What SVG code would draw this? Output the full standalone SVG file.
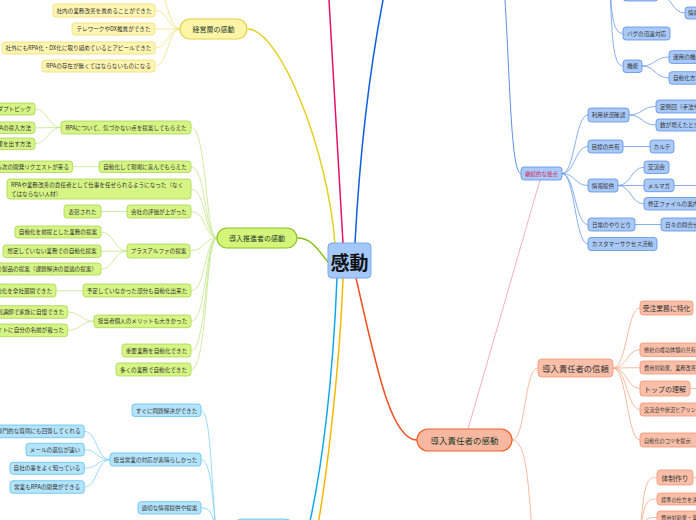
<svg xmlns="http://www.w3.org/2000/svg" width="696" height="520" viewBox="0 0 696 520">
<style>
text{font-family:"Noto Sans CJK JP","Noto Sans CJK SC",sans-serif;font-size:5.6px;fill:#333;dominant-baseline:central;text-anchor:middle}
.e{text-anchor:end}.s{text-anchor:start}
.y rect{fill:#fff6b2;stroke:#f0dc70;stroke-width:.8}
.g rect{fill:#d6f584;stroke:#a8d650;stroke-width:.8}
.lb rect{fill:#b3e4fb;stroke:#5ec0f0;stroke-width:.8}
.b rect{fill:#a9c9f9;stroke:#5b8fe6;stroke-width:.8}
.o rect{fill:#f9bfa9;stroke:#f19475;stroke-width:.8}
.main text{fill:#1d3b2a;font-size:7px}
#connectors path{fill:none}
.cy{stroke:#f3e27a;stroke-width:.8}
.cg{stroke:#c4e68a;stroke-width:.8}
.cl{stroke:#80d0f8;stroke-width:.8}
.cb{stroke:#6a9ae8;stroke-width:.8}
.co{stroke:#f8a888;stroke-width:.8}
</style>
<g id="connectors">
<path d="M247.5,29 C280,29 328,150 335,244" stroke="#e6d020" stroke-width="1.5"/>
<path d="M343,243 Q336,120 329,0" stroke="#e8106a" stroke-width="1.5"/>
<path d="M355,243 Q362,110 383,0" stroke="#1060e0" stroke-width="1.5"/>
<path d="M297,238 C312,238 318,250 328,262" stroke="#80c010" stroke-width="1.5"/>
<path d="M337,278 C333,380 322,470 308,530" stroke="#10a8e8" stroke-width="1.5"/>
<path d="M343,278 C340,360 328,470 317,530" stroke="#f8b800" stroke-width="1.5"/>
<path d="M356,278 C375,360 390,440 417,440" stroke="#f05020" stroke-width="1.5"/>
<path d="M468,429 L540,180" stroke="#f4a6b8" stroke-width=".9"/>
<path d="M505,0 C510,80 511,173.5 521,173.5" stroke="#5a90e8" stroke-width="1"/>
<!-- yellow -->
<path class="cy" d="M180,29 C168,29 168,-10 155,-10"/>
<path class="cy" d="M180,29 C168,29 168,10.5 155,10.5"/>
<path class="cy" d="M180,29 C168,29 168,29 155,29"/>
<path class="cy" d="M180,29 C168,29 168,48 155,48"/>
<path class="cy" d="M180,29 C168,29 168,66 155,66"/>
<!-- green -->
<path class="cg" d="M191,127.5 C207,127.5 205,238 217,238"/>
<path class="cg" d="M191,166.7 C206,166.7 205,238 217,238"/>
<path class="cg" d="M191,189 C206,189 205,238 217,238"/>
<path class="cg" d="M191,211.5 C206,211.5 205,238 217,238"/>
<path class="cg" d="M190,251 C204,251 205,238 217,238"/>
<path class="cg" d="M191,290.8 C206,290.8 205,238 217,238"/>
<path class="cg" d="M191,321.3 C207,321.3 205,238 217,238"/>
<path class="cg" d="M191,350.8 C207,350.8 205,238 217,238"/>
<path class="cg" d="M191,369.7 C208,369.7 205,238 217,238"/>
<path class="cg" d="M35,109 C48,109 48,127.5 61,127.5"/>
<path class="cg" d="M35,127.8 L61,127.5" stroke-width="1.6"/>
<path class="cg" d="M35,143.5 C48,143.5 48,127.5 61,127.5"/>
<path class="cg" d="M72.7,166.7 L99,166.7"/>
<path class="cg" d="M101,211.5 L127,211.5" stroke-width="1.4"/>
<path class="cg" d="M101,232 C114,232 114,251 127,251"/>
<path class="cg" d="M101,251.3 L127,251"/>
<path class="cg" d="M101,269 C114,269 114,251 127,251"/>
<path class="cg" d="M56,290.8 L83,290.8" stroke-width="1.4"/>
<path class="cg" d="M67.7,312 C81,312 81,321.3 94,321.3"/>
<path class="cg" d="M67.7,330.3 C81,330.3 81,321.3 94,321.3"/>
<!-- light blue -->
<path class="cl" d="M201,410.5 C211,410.5 211,480 216,530"/>
<path class="cl" d="M201,459.7 C211,459.7 212,495 216,530"/>
<path class="cl" d="M201,507.8 C211,507.8 213,515 216,530"/>
<path class="cl" d="M84.3,431.3 C97,431.3 97,459.7 110,459.7"/>
<path class="cl" d="M84.3,449.7 C97,449.7 97,459.7 110,459.7"/>
<path class="cl" d="M84.3,468.3 C97,468.3 97,459.7 110,459.7"/>
<path class="cl" d="M84.3,487 C97,487 97,459.7 110,459.7"/>
<!-- blue -->
<path class="cb" d="M562,173.5 C575,173.5 575,115 588,115"/>
<path class="cb" d="M562,173.5 C575,173.5 575,146.5 588,146.5"/>
<path class="cb" d="M562,173.5 C575,173.5 575,185.5 588,185.5"/>
<path class="cb" d="M562,173.5 C575,173.5 575,224.5 588,224.5"/>
<path class="cb" d="M562,173.5 C575,173.5 575,244 588,244"/>
<path class="cb" d="M629,115 C642,115 642,106.5 656,106.5"/>
<path class="cb" d="M629,115 C642,115 642,125 656,125"/>
<path class="cb" d="M623,146.5 L650,146.5"/>
<path class="cb" d="M618,185.5 C631,185.5 631,167.3 644,167.3"/>
<path class="cb" d="M618,185.5 L644,185.5"/>
<path class="cb" d="M618,185.5 C631,185.5 631,203.8 644,203.8"/>
<path class="cb" d="M674,185.5 L696,185.5"/>
<path class="cb" d="M635,224.5 L661,224.5"/>
<path class="cb" d="M610,-10 C612,10 612,33.5 623,33.5"/>
<path class="cb" d="M610,-10 C612,30 612,66 623,66"/>
<path class="cb" d="M606,-20 C612,-20 612,-5 623,-5"/>
<path class="cb" d="M658,-5 C672,-5 672,13 685,13"/>
<path class="cb" d="M642,66 C655,66 655,57 669,57"/>
<path class="cb" d="M642,66 C655,66 655,78 669,78"/>
<!-- orange -->
<path class="co" d="M512,440 C526,440 524,368 538,368"/>
<path class="co" d="M512,440 C526,440 528,480 532,530"/>
<path class="co" d="M613,368 C627,368 627,308 640,308"/>
<path class="co" d="M613,368 C627,368 627,349.7 640,349.7"/>
<path class="co" d="M613,368 L640,367.7"/>
<path class="co" d="M613,368 C627,368 627,388.5 640,388.5"/>
<path class="co" d="M613,368 C627,368 627,409.5 640,409.5"/>
<path class="co" d="M613,368 C627,368 627,440 640,440"/>
<path class="co" d="M690,388.5 L696,388.5"/>
<path class="co" d="M640,535 C644,477.5 648,477.5 657,477.5"/>
<path class="co" d="M640,535 C644,499 648,499 657,499"/>
<path class="co" d="M640,535 C644,517.5 648,517.5 657,517.5"/>
<path class="co" d="M693,477.5 L696,477.5"/>
</g>

<g id="center"><rect x="328" y="243" width="43" height="35" rx="4" fill="#a5c8fa" stroke="#78a8f0" stroke-width="1"/><text x="349.5" y="261" style="font-size:19px;font-weight:bold;fill:#111">感動</text></g>

<g id="keiei" class="y main"><rect x="180" y="19" width="67" height="20" rx="10" style="fill:#fff5a8;stroke:#e8d040;stroke-width:1.2"/><text x="213.5" y="29">経営層の感動</text></g>
<g id="y1" class="y"><rect x="53" y="4" width="102" height="13" rx="3"/><text x="104" y="10.5">社内の業務改善を進めることができた</text></g>
<g id="y2" class="y"><rect x="72" y="23" width="83" height="12" rx="3"/><text x="113.5" y="29">テレワークやDX推進ができた</text></g>
<g id="y3" class="y"><rect x="2" y="42" width="153" height="12" rx="3"/><text x="78.5" y="48">社外にもRPA化・DX化に取り組めているとアピールできた</text></g>
<g id="y4" class="y"><rect x="42" y="60" width="113" height="12" rx="3"/><text x="98.5" y="66">RPAの存在が無くてはならないものになる</text></g>

<g id="suishin" class="g main"><rect x="217" y="228" width="80" height="20" rx="10" style="fill:#d4f57a;stroke:#88c420;stroke-width:1.2"/><text x="257" y="238">導入推進者の感動</text></g>
<g id="g1" class="g"><rect x="61" y="121" width="130" height="13" rx="3"/><text x="126" y="127.5">RPAについて、気づかない点を提案してもらえた</text></g>
<g id="g1a" class="g"><rect x="-40" y="103" width="75" height="12" rx="3"/><text class="e" x="31" y="109">アダプトピック</text></g>
<g id="g1b" class="g"><rect x="-40" y="122" width="75" height="11.5" rx="3"/><text class="e" x="31" y="127.8">RPAの導入方法</text></g>
<g id="g1c" class="g"><rect x="-40" y="138" width="75" height="11.5" rx="3"/><text class="e" x="31" y="143.7">成果を出す方法</text></g>
<g id="g2" class="g"><rect x="99" y="161" width="92" height="11.5" rx="3"/><text x="145" y="166.7">自動化して現場に喜んでもらえた</text></g>
<g id="g2a" class="g"><rect x="-40" y="161" width="112.7" height="11.5" rx="3"/><text class="e" x="69" y="166.7">現場から次の開発リクエストが来る</text></g>
<g id="g3" class="g"><rect x="7" y="179" width="184" height="20" rx="3"/><text class="s" x="11" y="185">RPAや業務改善の責任者として仕事を任せられるようになった（なく</text><text class="s" x="11" y="193.5">てはならない人材）</text></g>
<g id="g4" class="g"><rect x="127" y="205" width="64" height="13" rx="3"/><text x="159" y="211.5">会社の評価が上がった</text></g>
<g id="g4a" class="g"><rect x="64" y="205" width="37" height="13" rx="3"/><text x="82.5" y="211.5">表彰された</text></g>
<g id="g5" class="g"><rect x="127" y="244" width="63" height="14" rx="3"/><text x="158.5" y="251">プラスアルファの提案</text></g>
<g id="g5a" class="g"><rect x="15" y="226" width="86" height="12" rx="3"/><text x="58" y="232">自動化を前提とした業務の提案</text></g>
<g id="g5b" class="g"><rect x="3" y="245" width="98" height="12.5" rx="3"/><text x="52" y="251.3">想定していない業務での自動化提案</text></g>
<g id="g5c" class="g"><rect x="-30" y="263" width="131" height="12" rx="3"/><text class="e" x="97" y="269">他の製品の提案（課題解決の最適の提案）</text></g>
<g id="g6" class="g"><rect x="83" y="284" width="108" height="13" rx="3"/><text x="137" y="290.8">予定していなかった部分も自動化出来た</text></g>
<g id="g6a" class="g"><rect x="-30" y="284" width="86" height="13" rx="3"/><text class="e" x="52" y="290.8">自動化を全社展開できた</text></g>
<g id="g7" class="g"><rect x="94" y="315" width="97" height="12.7" rx="3"/><text x="142.5" y="321.3">担当者個人のメリットも大きかった</text></g>
<g id="g7a" class="g"><rect x="-30" y="305.7" width="97.7" height="12.6" rx="3"/><text class="e" x="64" y="312">特別講師で家族に自慢できた</text></g>
<g id="g7b" class="g"><rect x="-30" y="324" width="97.7" height="12.7" rx="3"/><text class="e" x="64" y="330.3">Webサイトに自分の名前が載った</text></g>
<g id="g8" class="g"><rect x="122" y="344" width="69" height="13" rx="3"/><text x="156.5" y="350.8">重要業務を自動化できた</text></g>
<g id="g9" class="g"><rect x="116" y="363" width="75" height="13" rx="3"/><text x="153.5" y="369.7">多くの業務で自動化できた</text></g>

<g id="l0" class="lb"><rect x="232" y="519" width="63" height="22" rx="10"/></g>
<g id="l1" class="lb"><rect x="132" y="404" width="69" height="12.5" rx="3"/><text x="166.5" y="410.5">すぐに問題解決ができた</text></g>
<g id="l2" class="lb"><rect x="110" y="453" width="91" height="13" rx="3"/><text x="155.5" y="459.7">担当営業の対応が素晴らしかった</text></g>
<g id="l2a" class="lb"><rect x="-20" y="425" width="104.3" height="12.7" rx="3"/><text class="e" x="80.5" y="431.3">専門的な質問にも回答してくれる</text></g>
<g id="l2b" class="lb"><rect x="26" y="443.3" width="58.3" height="12.7" rx="3"/><text x="55" y="449.7">メールの返信が速い</text></g>
<g id="l2c" class="lb"><rect x="10" y="462.3" width="74.3" height="12" rx="3"/><text x="47" y="468.3">自社の事をよく知っている</text></g>
<g id="l2d" class="lb"><rect x="10" y="480.7" width="74.3" height="12.6" rx="3"/><text x="47" y="487">営業もRPAの開発ができる</text></g>
<g id="l3" class="lb"><rect x="138" y="501.7" width="63" height="12.3" rx="3"/><text x="169.5" y="507.8">適切な情報提供や提案</text></g>

<g id="b0" class="b"><rect x="521" y="167" width="41" height="13" rx="3"/><text x="541.5" y="173.5" style="fill:#d0285a;font-size:5.5px">継続的な接点</text></g>
<g id="b1" class="b"><rect x="588" y="108" width="41" height="14" rx="3"/><text x="608.5" y="115">利用状況確認</text></g>
<g id="b1a" class="b"><rect x="656" y="100" width="60" height="13" rx="3"/><text class="s" x="660" y="106.5">定例回（手法や</text></g>
<g id="b1b" class="b"><rect x="656" y="119" width="60" height="12" rx="3"/><text class="s" x="660" y="125">数が増えたとき</text></g>
<g id="b2" class="b"><rect x="588" y="140" width="35" height="13" rx="3"/><text x="605.5" y="146.5">目標の共有</text></g>
<g id="b2a" class="b"><rect x="650" y="140" width="24" height="13" rx="3"/><text x="662" y="146.5">カルテ</text></g>
<g id="b3" class="b"><rect x="588" y="179" width="30" height="13" rx="3"/><text x="603" y="185.5">情報提供</text></g>
<g id="b3a" class="b"><rect x="644" y="161" width="25" height="12.5" rx="3"/><text x="656.5" y="167.3">交流会</text></g>
<g id="b3b" class="b"><rect x="644" y="179" width="30" height="12.7" rx="3"/><text x="659" y="185.5">メルマガ</text></g>
<g id="b3c" class="b"><rect x="644" y="197.5" width="60" height="12.5" rx="3"/><text class="s" x="648" y="203.8">修正ファイルの案内</text></g>
<g id="b4" class="b"><rect x="588" y="218" width="47" height="13" rx="3"/><text x="611.5" y="224.5">日常のやりとり</text></g>
<g id="b4a" class="b"><rect x="661" y="218" width="50" height="13" rx="3"/><text class="s" x="665" y="224.5">日々の問合せ対応</text></g>
<g id="b5" class="b"><rect x="588" y="237.5" width="69" height="13" rx="3"/><text x="622.5" y="244">カスタマーサクセス活動</text></g>
<g id="b6" class="b"><rect x="623" y="-12" width="35" height="13" rx="3"/></g>
<g id="b6a" class="b"><rect x="685" y="7" width="30" height="12" rx="3"/><text class="s" x="688" y="13">情報</text></g>
<g id="b7" class="b"><rect x="623" y="27" width="47" height="13" rx="3"/><text x="646.5" y="33.5">バグの迅速対応</text></g>
<g id="b8" class="b"><rect x="623" y="60" width="19" height="12.5" rx="3"/><text x="632.5" y="66">機能</text></g>
<g id="b8a" class="b"><rect x="669" y="50.7" width="40" height="12.7" rx="3"/><text class="s" x="673" y="57">運用の機能</text></g>
<g id="b8b" class="b"><rect x="669" y="71.7" width="40" height="12.5" rx="3"/><text class="s" x="673" y="78">自動化方法</text></g>

<g id="sekinin" class="o main"><rect x="417" y="429" width="95" height="22" rx="11" style="fill:#f8b8a0;stroke:#f06030;stroke-width:1.2"/><text x="464.5" y="440" style="font-size:8.5px">導入責任者の感動</text></g>
<g id="o1" class="o"><rect x="538" y="359" width="75" height="18" rx="4"/><text x="575.5" y="368" style="font-size:8.3px">導入責任者の信頼</text></g>
<g id="o1a" class="o"><rect x="640" y="301" width="53" height="14" rx="3"/><text x="666.5" y="308" style="font-size:6.8px">受注業務に特化</text></g>
<g id="o1b" class="o"><rect x="640" y="343" width="70" height="13.5" rx="3"/><text class="s" x="644" y="349.7" style="font-size:5.2px">他社の成功体験の共有</text></g>
<g id="o1c" class="o"><rect x="640" y="361" width="70" height="13" rx="3"/><text class="s" x="644" y="367.7" style="font-size:5.2px">費用対効果、業務改善</text></g>
<g id="o1d" class="o"><rect x="640" y="381" width="50" height="15" rx="3"/><text x="665" y="388.5" style="font-size:7px">トップの理解</text></g>
<g id="o1e" class="o"><rect x="640" y="403" width="70" height="13" rx="3"/><text class="s" x="644" y="409.5" style="font-size:5.2px">交流会や状況ヒアリング</text></g>
<g id="o1f" class="o"><rect x="640" y="433" width="70" height="14" rx="3"/><text class="s" x="644" y="440" style="font-size:5.2px">自動化のコツを提示</text></g>
<g id="o2a" class="o"><rect x="657" y="470" width="36" height="15" rx="3"/><text x="675" y="477.5" style="font-size:6.8px">体制作り</text></g>
<g id="o2b" class="o"><rect x="657" y="493" width="60" height="12" rx="3"/><text class="s" x="661" y="499" style="font-size:5.2px">標準の仕方を決める</text></g>
<g id="o2c" class="o"><rect x="657" y="511" width="60" height="13" rx="3"/><text class="s" x="661" y="517.5" style="font-size:5.2px">費用対効果・業務改善</text></g>
</svg>
